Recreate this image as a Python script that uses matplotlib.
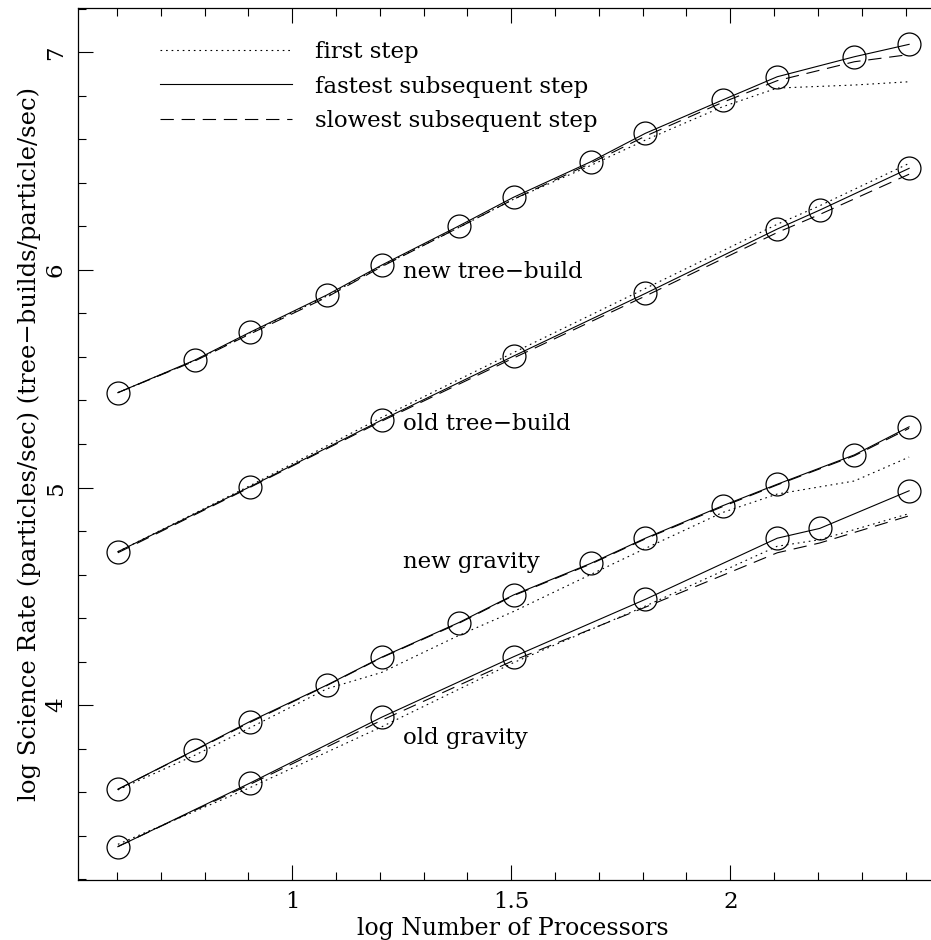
import numpy as np
import matplotlib
matplotlib.use('Agg')
import matplotlib.pyplot as plt
from matplotlib.lines import Line2D
from matplotlib.ticker import MultipleLocator

plt.rcParams['font.family'] = ['DejaVu Serif']

# processor counts (x axis is log10 of these)
procs_all = [4, 6, 8, 12, 16, 24, 32, 48, 64, 96, 128, 192, 256]
procs_old = [4, 8, 16, 32, 64, 128, 160, 256]

# new tree-build
ntb_fast = [5.436, 5.586, 5.713, 5.885, 6.022, 6.202, 6.334, 6.497, 6.628, 6.781, 6.888, 6.980, 7.037]
ntb_first = [5.436, 5.584, 5.710, 5.880, 6.018, 6.195, 6.325, 6.480, 6.597, 6.750, 6.836, 6.850, 6.865]
ntb_slow = [5.436, 5.582, 5.705, 5.875, 6.015, 6.195, 6.325, 6.490, 6.615, 6.770, 6.870, 6.957, 6.990]

# old tree-build
otb_fast = [4.705, 5.003, 5.310, 5.604, 5.892, 6.188, 6.275, 6.467]
otb_first = [4.705, 5.008, 5.322, 5.620, 5.915, 6.210, 6.295, 6.490]
otb_slow = [4.700, 5.000, 5.305, 5.595, 5.880, 6.172, 6.255, 6.440]

# new gravity
ngr_fast = [3.613, 3.794, 3.924, 4.092, 4.220, 4.379, 4.506, 4.651, 4.767, 4.916, 5.015, 5.150, 5.279]
ngr_first = [3.610, 3.770, 3.895, 4.075, 4.150, 4.320, 4.430, 4.600, 4.720, 4.885, 4.970, 5.030, 5.140]
ngr_slow = [3.613, 3.792, 3.920, 4.090, 4.218, 4.376, 4.503, 4.648, 4.764, 4.912, 5.012, 5.146, 5.272]

# old gravity
ogr_fast = [3.349, 3.641, 3.944, 4.222, 4.486, 4.767, 4.812, 4.985]
ogr_first = [3.360, 3.620, 3.900, 4.195, 4.455, 4.730, 4.760, 4.880]
ogr_slow = [3.350, 3.635, 3.930, 4.205, 4.450, 4.700, 4.745, 4.870]

labels = ['new tree\u2212build', 'old tree\u2212build', 'new gravity', 'old gravity']
label_y = [5.99, 5.29, 4.656, 3.85]

DOT = (0, (1.5, 3.5))
DASH = (0, (12, 7))
lw = 0.8
fs = 16.5

fig = plt.figure(figsize=(9.31, 9.40), dpi=100)
# the right edge of the frame lies just outside the picture
ax = fig.add_axes([78 / 931, 60 / 940, 870 / 931, 872 / 940])

groups = [
    (procs_all, ntb_fast, ntb_first, ntb_slow),
    (procs_old, otb_fast, otb_first, otb_slow),
    (procs_all, ngr_fast, ngr_first, ngr_slow),
    (procs_old, ogr_fast, ogr_first, ogr_slow),
]

for procs, fast, first, slow in groups:
    x = np.log10(procs)
    ax.plot(x, first, color='black', lw=lw, linestyle=DOT)
    ax.plot(x, slow, color='black', lw=lw, linestyle=DASH)
    ax.plot(x, fast, color='black', lw=lw, linestyle='-')
    ax.plot(x, fast, linestyle='none', marker='o', markersize=16.5,
            markerfacecolor='none', markeredgecolor='black', markeredgewidth=0.9)

for lab, yy in zip(labels, label_y):
    ax.text(1.253, yy, lab, fontsize=fs, va='center', ha='left')

handles = [
    Line2D([], [], color='black', lw=lw, linestyle=DOT),
    Line2D([], [], color='black', lw=lw, linestyle='-'),
    Line2D([], [], color='black', lw=lw, linestyle=DASH),
]
ax.legend(handles, ['first step', 'fastest subsequent step', 'slowest subsequent step'],
          loc='upper left', bbox_to_anchor=(82 / 870, 0.962), frameon=False,
          borderpad=0, borderaxespad=0,
          fontsize=fs, handlelength=5.76, handletextpad=1.0, labelspacing=0.54)

ax.set_xlim(0.511, 2.497)
ax.set_ylim(3.196, 7.204)
ax.xaxis.set_minor_locator(MultipleLocator(0.1))
ax.yaxis.set_minor_locator(MultipleLocator(0.2))
ax.set_xticks([1, 1.5, 2])
ax.set_xticklabels(['1', '1.5', '2'])
ax.set_yticks([4, 5, 6, 7])
ax.set_yticklabels(['4', '5', '6', '7'], rotation=90, va='center')
ax.tick_params(which='both', direction='in', top=True, right=False, labelsize=fs, width=0.8)
ax.tick_params(which='major', length=11, pad=8)
ax.tick_params(which='minor', length=5.5)
ax.spines['right'].set_visible(False)
for s in ['left', 'top', 'bottom']:
    ax.spines[s].set_linewidth(0.9)

ax.set_xlabel('log Number of Processors', fontsize=17, labelpad=3)
ax.set_ylabel('log Science Rate (particles/sec) (tree\u2212builds/particle/sec)', fontsize=17.5, labelpad=3)

fig.savefig('out.png', dpi=100)
